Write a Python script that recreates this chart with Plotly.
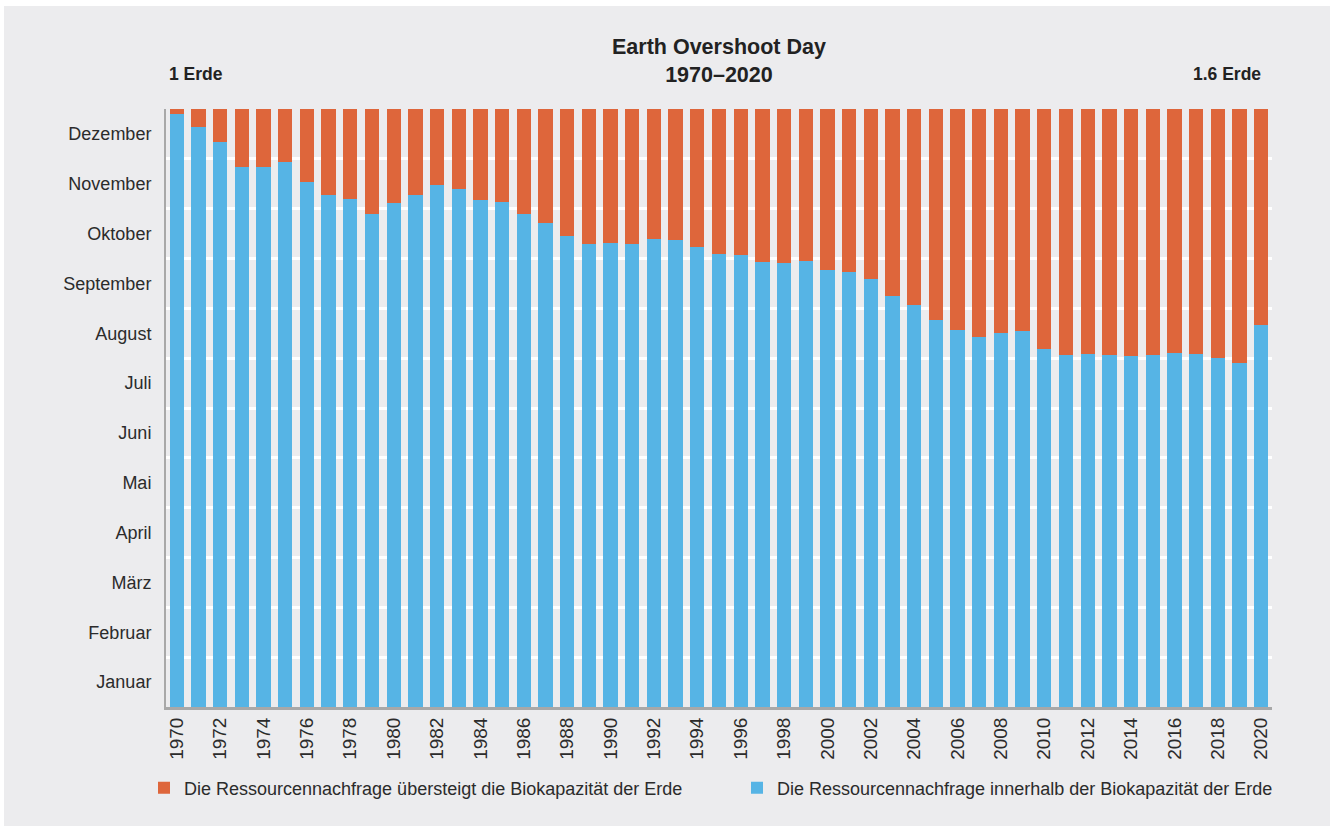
import plotly.graph_objects as go

years = list(range(1970, 2021))
# Earth Overshoot Day position on the month axis (0 = 1 Jan, 12 = 31 Dec)
overshoot_month = [
    11.89, 11.63, 11.34, 10.83, 10.83, 10.94, 10.54, 10.28, 10.20, 9.89,
    10.12, 10.28, 10.48, 10.40, 10.18, 10.14, 9.90, 9.71, 9.46, 9.29,
    9.32, 9.29, 9.40, 9.38, 9.23, 9.10, 9.08, 8.92, 8.91, 8.94,
    8.76, 8.72, 8.59, 8.25, 8.07, 7.77, 7.56, 7.42, 7.50, 7.55,
    7.19, 7.07, 7.09, 7.07, 7.05, 7.07, 7.11, 7.09, 7.01, 6.90,
    7.67,
]
year_total = 12
remaining = [year_total - v for v in overshoot_month]

month_labels = ["Januar", "Februar", "März", "April", "Mai", "Juni", "Juli",
                "August", "September", "Oktober", "November", "Dezember"]
month_centers = [i + 0.5 for i in range(12)]
month_bounds = list(range(1, 13))
year_ticks = list(range(1970, 2021, 2))

name_over = "Die Ressourcennachfrage übersteigt die Biokapazität der Erde"
name_within = "Die Ressourcennachfrage innerhalb der Biokapazität der Erde"
title_text = "Earth Overshoot Day<br>1970–2020"
left_label = "1 Erde"
right_label = "1.6 Erde"

BLUE = "#56b4e5"
ORANGE = "#de663b"
BG = "#ececee"
TXT = "#2b2b2b"
FONT = "Liberation Sans"

fig = go.Figure()
fig.add_trace(go.Bar(x=years, y=overshoot_month, name=name_within,
                     marker=dict(color=BLUE, line=dict(width=0)), width=0.66))
fig.add_trace(go.Bar(x=years, y=remaining, name=name_over,
                     marker=dict(color=ORANGE, line=dict(width=0)), width=0.66))

L, R, T, B = 166, 58, 109, 119
W, H = 1330, 826
pw, ph = W - L - R, H - T - B

def px_x(px):
    return (px - L) / pw

def px_y(py):
    return (H - B - py) / ph

fig.update_layout(
    width=W, height=H,
    barmode="stack",
    bargap=0,
    paper_bgcolor=BG,
    plot_bgcolor=BG,
    margin=dict(l=L, r=R, t=T, b=B, pad=0),
    font=dict(family=FONT, color=TXT, size=18),
    showlegend=True,
    legend=dict(orientation="h", traceorder="reversed",
                x=px_x(145), xanchor="left", y=px_y(788), yanchor="middle",
                font=dict(size=18, color=TXT), bgcolor="rgba(0,0,0,0)",
                entrywidth=548, entrywidthmode="pixels"),
    xaxis=dict(range=[1969.5, 2020.5], tickmode="array", tickvals=year_ticks,
               ticktext=[str(y) for y in year_ticks], tickangle=-90,
               showgrid=False, zeroline=False, showline=True,
               linecolor="#a8a8a8", linewidth=3,
               ticks="", tickfont=dict(size=19, color=TXT)),
    yaxis=dict(range=[0, 12], tickmode="array", tickvals=month_centers,
               ticktext=month_labels, showgrid=False, zeroline=False,
               showline=True, linecolor="#a8a8a8", linewidth=2,
               ticks="outside", ticklen=9, tickcolor="rgba(0,0,0,0)",
               tickfont=dict(size=18, color=TXT),
               minor=dict(tickmode="array", tickvals=month_bounds, showgrid=True,
                          gridcolor="white", gridwidth=2.5, ticks="")),
    shapes=[
        dict(type="rect", xref="paper", yref="paper", layer="below",
             x0=px_x(0), x1=px_x(W), y0=px_y(0), y1=px_y(6),
             fillcolor="white", line=dict(width=0)),
        dict(type="rect", xref="paper", yref="paper", layer="below",
             x0=px_x(0), x1=px_x(4), y0=px_y(0), y1=px_y(H),
             fillcolor="white", line=dict(width=0)),
    ],
    annotations=[
        dict(text="<b>" + title_text + "</b>", xref="paper", yref="paper",
             x=0.5, y=px_y(61), xanchor="center", yanchor="middle",
             showarrow=False, font=dict(size=21.5, color="#222222", family=FONT)),
        dict(text="<b>" + left_label + "</b>", xref="paper", yref="paper",
             x=px_x(167), y=px_y(74), xanchor="left", yanchor="middle",
             showarrow=False, font=dict(size=17.5, color="#222222", family=FONT)),
        dict(text="<b>" + right_label + "</b>", xref="paper", yref="paper",
             x=px_x(1263), y=px_y(74), xanchor="right", yanchor="middle",
             showarrow=False, font=dict(size=17.5, color="#222222", family=FONT)),
    ],
)

fig.write_html("out.html",
               config={"displayModeBar": False},
               post_script="document.body.style.margin='0px';document.body.style.overflow='hidden';")
